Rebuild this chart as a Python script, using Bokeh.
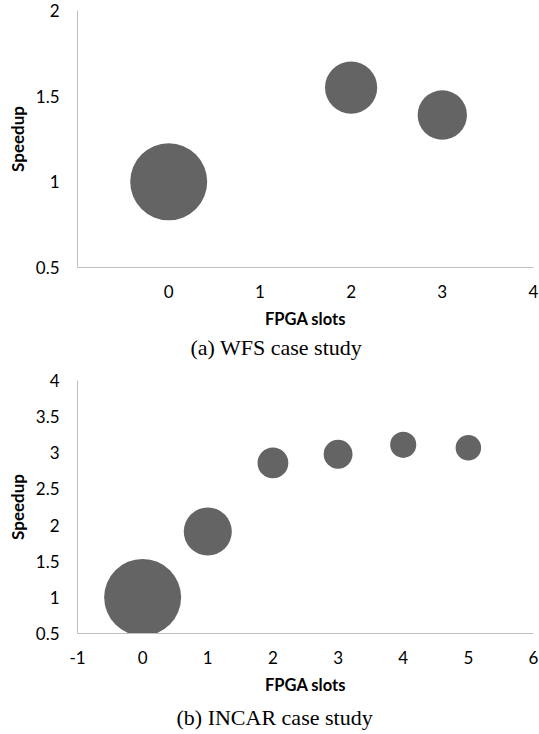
from bokeh.plotting import figure
from bokeh.models import FixedTicker, Range1d, Title, ColumnDataSource
from bokeh.layouts import column
from bokeh.embed import file_html
from bokeh.resources import INLINE
import numpy as np

# ---- data (a) WFS case study ----
wfs_slots = [0, 2, 3]
wfs_speedup = [1.0, 1.55, 1.39]
wfs_bubble = [1.0, 0.46, 0.41]
wfs_xticks = [0, 1, 2, 3, 4]
wfs_yticks = [0.5, 1, 1.5, 2]

# ---- data (b) INCAR case study ----
incar_slots = [0, 1, 2, 3, 4, 5]
incar_speedup = [1.0, 1.91, 2.86, 2.98, 3.11, 3.07]
incar_bubble = [1.0, 0.39, 0.16, 0.14, 0.115, 0.11]
incar_xticks = [-1, 0, 1, 2, 3, 4, 5, 6]
incar_yticks = [0.5, 1, 1.5, 2, 2.5, 3, 3.5, 4]

BUBBLE_COLOR = "#646464"
AXIS_COLOR = "#bfbfbf"
MAX_D = 77


def make_chart(xs, ys, sizes, xticks, yticks, xr, yr, caption, w, h,
               bl, br, bt, bb, cap_offset, cap_standoff):
    p = figure(width=w, height=h, x_range=Range1d(*xr), y_range=Range1d(*yr),
               output_backend="svg", toolbar_location=None,
               min_border_left=bl, min_border_right=br,
               min_border_top=bt, min_border_bottom=bb)
    s = np.array(sizes, dtype=float)
    diam = MAX_D * np.sqrt(s / s.max())
    src = ColumnDataSource(dict(x=xs, y=ys, d=diam))
    p.scatter("x", "y", size="d", source=src, fill_color=BUBBLE_COLOR,
              line_color=None)
    p.outline_line_color = None
    p.grid.visible = False
    p.background_fill_color = "white"
    p.border_fill_color = "white"

    for ax in (p.xaxis[0], p.yaxis[0]):
        ax.axis_line_color = AXIS_COLOR
        ax.axis_line_width = 1
        ax.major_tick_line_color = None
        ax.minor_tick_line_color = None
        ax.major_tick_out = 0
        ax.major_tick_in = 0
        ax.minor_tick_out = 0
        ax.major_label_text_font = "Lato"
        ax.major_label_text_font_size = "17px"
        ax.major_label_text_color = "black"
        ax.axis_label_text_font = "Lato"
        ax.axis_label_text_font_size = "16.5px"
        ax.axis_label_text_font_style = "bold"
        ax.axis_label_text_color = "black"

    p.xaxis[0].ticker = FixedTicker(ticks=xticks)
    p.yaxis[0].ticker = FixedTicker(ticks=yticks)
    p.xaxis[0].major_label_overrides = {t: str(t) for t in xticks}
    p.yaxis[0].major_label_overrides = {t: ("%g" % t) for t in yticks}
    p.xaxis[0].axis_label = "FPGA slots"
    p.xaxis[0].major_label_standoff = 17
    p.xaxis[0].axis_label_standoff = 8
    p.yaxis[0].major_label_standoff = 18

    # y-axis title, placed slightly below the frame centre as in the original
    yt = Title(text="Speedup", align="center", offset=-9,
               text_font="Lato", text_font_size="17px",
               text_font_style="bold", text_color="black", standoff=9)
    p.add_layout(yt, "left")

    t = Title(text=caption, align="left", offset=cap_offset,
              text_font="Liberation Serif", text_font_size="22px",
              text_font_style="normal", text_color="black", standoff=cap_standoff)
    p.add_layout(t, "below")
    return p


p1 = make_chart(wfs_slots, wfs_speedup, wfs_bubble, wfs_xticks, wfs_yticks,
                (-1, 4), (0.5, 2), "(a) WFS case study",
                539, 360, 75, 5, 10, 92, 113, 2)
p2 = make_chart(incar_slots, incar_speedup, incar_bubble, incar_xticks, incar_yticks,
                (-1, 6), (0.5, 4), "(b) INCAR case study",
                539, 374, 77, 6, 20, 95, 99, 10)

layout = column(p1, p2, spacing=0)
open("out.html", "w").write(file_html(layout, INLINE))
